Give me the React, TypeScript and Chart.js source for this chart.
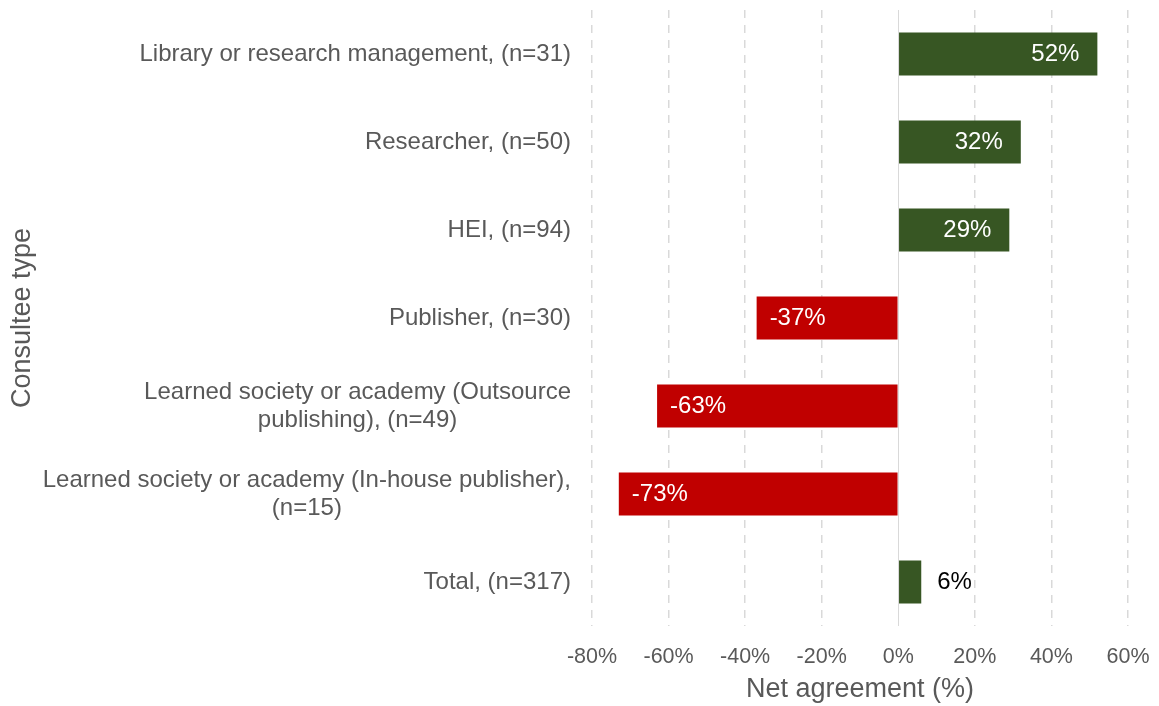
import React, { useEffect, useRef } from "react";
import { Chart, registerables } from "chart.js";

Chart.register(...registerables);

const categories: string[][] = [
  ["Library or research management, (n=31)"],
  ["Researcher, (n=50)"],
  ["HEI, (n=94)"],
  ["Publisher, (n=30)"],
  ["Learned society or academy (Outsource", "publishing), (n=49)"],
  ["Learned society or academy (In-house publisher),", "(n=15)"],
  ["Total, (n=317)"],
];
const netAgreement: number[] = [52, 32, 29, -37, -63, -73, 6];
const xTicks: number[] = [-80, -60, -40, -20, 0, 20, 40, 60];
const xTitle = "Net agreement (%)";
const yTitle = "Consultee type";

const GREEN = "#375623";
const RED = "#C00000";
const GRAY = "#595959";
const FONT = "'Liberation Sans', Arial, sans-serif";

const labelsPlugin = {
  id: "customLabels",
  afterDatasetsDraw(chart: any) {
    const { ctx, scales } = chart;
    const x = scales.x;
    const y = scales.y;
    const area = chart.chartArea;
    ctx.save();
    // zero line
    const zx = Math.round(x.getPixelForValue(0)) + 0.5;
    ctx.strokeStyle = "#d9d9d9";
    ctx.lineWidth = 1;
    ctx.setLineDash([]);
    ctx.beginPath();
    ctx.moveTo(zx, area.top);
    ctx.lineTo(zx, area.bottom);
    ctx.stroke();

    // category labels
    ctx.font = `24px ${FONT}`;
    ctx.fillStyle = GRAY;
    ctx.textBaseline = "middle";
    ctx.textAlign = "center";
    const rightEdge = area.left - 21;
    const lh = 28;
    categories.forEach((lines, i) => {
      const cy = y.getPixelForValue(i);
      const widest = Math.max(...lines.map((l) => ctx.measureText(l).width));
      const cx = rightEdge - widest / 2;
      lines.forEach((l, j) => {
        const ly = cy + (j - (lines.length - 1) / 2) * lh;
        ctx.fillText(l, cx, ly);
      });
    });

    // data labels
    const meta = chart.getDatasetMeta(0);
    ctx.font = `24px ${FONT}`;
    meta.data.forEach((bar: any, i: number) => {
      const v = netAgreement[i];
      const txt = `${v}%`;
      const cy = bar.y;
      if (Math.abs(v) >= 20) {
        ctx.fillStyle = "#ffffff";
        if (v > 0) {
          ctx.textAlign = "right";
          ctx.fillText(txt, bar.x - 18, cy);
        } else {
          ctx.textAlign = "left";
          ctx.fillText(txt, bar.x + 13, cy);
        }
      } else {
        ctx.fillStyle = "#000000";
        if (v >= 0) {
          ctx.textAlign = "left";
          ctx.fillText(txt, bar.x + 16, cy);
        } else {
          ctx.textAlign = "right";
          ctx.fillText(txt, bar.x - 16, cy);
        }
      }
    });
    ctx.restore();
  },
};

export default function App() {
  const ref = useRef<HTMLCanvasElement | null>(null);
  useEffect(() => {
    if (!ref.current) return;
    const chart = new Chart(ref.current, {
      type: "bar",
      data: {
        labels: categories.map((c) => c.join(" ")),
        datasets: [
          {
            data: netAgreement,
            backgroundColor: netAgreement.map((v) => (v >= 0 ? GREEN : RED)),
            borderWidth: 0,
            categoryPercentage: 1,
            barPercentage: 0.49,
          },
        ],
      },
      options: {
        indexAxis: "y",
        animation: false,
        responsive: false,
        maintainAspectRatio: false,
        layout: { padding: { top: 10, right: 31, bottom: 0, left: 0 } },
        plugins: { legend: { display: false }, tooltip: { enabled: false } },
        scales: {
          x: {
            type: "linear",
            min: xTicks[0],
            max: xTicks[xTicks.length - 1],
            afterBuildTicks: (s: any) => {
              s.ticks = xTicks.map((v) => ({ value: v }));
            },
            afterFit: (s: any) => {
              s.height = 80;
              s.paddingLeft = 0;
              s.paddingRight = 0;
            },
            ticks: {
              callback: (v: any) => `${v}%`,
              color: GRAY,
              font: { family: FONT, size: 21.5 },
              padding: 18,
              maxRotation: 0,
              autoSkip: false,
            },
            grid: {
              color: (c: any) => (c.tick && c.tick.value === 0 ? "rgba(0,0,0,0)" : "#d9d9d9"),
              lineWidth: 1.5,
              drawTicks: false,
            },
            border: { display: false, dash: [8, 7] },
            title: {
              display: true,
              text: xTitle,
              color: GRAY,
              font: { family: FONT, size: 27 },
              padding: { top: 0, bottom: 0 },
            },
          },
          y: {
            type: "category",
            ticks: { display: false },
            grid: { display: false },
            border: { display: false },
            afterFit: (s: any) => {
              s.width = 592;
              s.paddingTop = 0;
              s.paddingBottom = 0;
            },
            title: {
              display: true,
              text: yTitle,
              color: GRAY,
              font: { family: FONT, size: 27 },
              padding: { top: 6, bottom: 0 },
            },
          },
        },
      },
      plugins: [labelsPlugin],
    } as any);
    return () => chart.destroy();
  }, []);
  return (
    <div style={{ position: "fixed", left: 0, top: 0, width: 1159, height: 706, background: "#fff" }}>
      <canvas ref={ref} width={1159} height={706} style={{ width: 1159, height: 706 }} />
    </div>
  );
}
